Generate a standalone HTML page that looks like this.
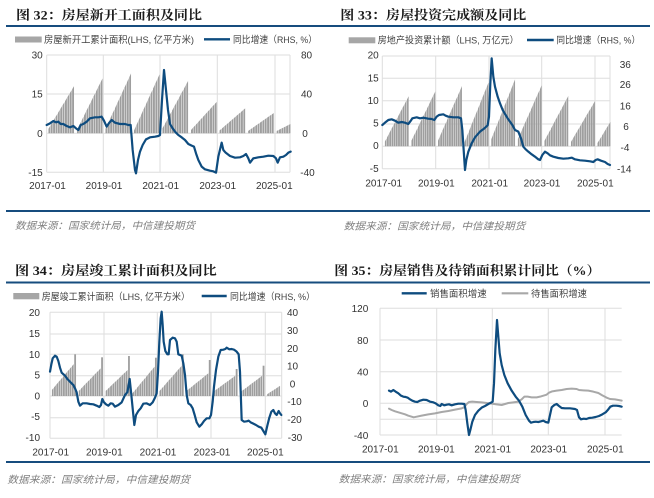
<!DOCTYPE html>
<html><head><meta charset="utf-8">
<style>
html,body{margin:0;padding:0;background:#fff;}
svg{display:block;}
.ax{font-family:"Liberation Sans","Noto Sans CJK SC",sans-serif;font-size:10px;fill:#333;}
.lg{font-family:"Liberation Sans","Noto Sans CJK SC",sans-serif;font-size:9.5px;fill:#404040;}
.tt{font-family:"Liberation Serif","Noto Serif CJK SC",serif;font-size:13px;font-weight:bold;fill:#1a1a1a;}
.src{font-family:"Liberation Sans","Noto Sans CJK SC",sans-serif;font-size:10px;font-style:italic;fill:#808080;}
.g{stroke:#dedede;stroke-width:1;fill:none;}
.bl{fill:none;stroke:#0e4c7f;stroke-width:2.2;stroke-linejoin:round;stroke-linecap:round;}
.gl{fill:none;stroke:#a8a8a8;stroke-width:2;stroke-linejoin:round;stroke-linecap:round;}
</style></head>
<body>
<svg width="654" height="498" viewBox="0 0 654 498" xmlns="http://www.w3.org/2000/svg">
<defs>
<pattern id="p1" patternUnits="userSpaceOnUse" x="48.35" y="0" width="2.378" height="498"><rect x="0" y="0" width="1.9" height="498" fill="#9e9e9e"/></pattern>
<pattern id="p2" patternUnits="userSpaceOnUse" x="384.8" y="0" width="2.216" height="498"><rect x="0" y="0" width="1.8" height="498" fill="#9e9e9e"/></pattern>
<pattern id="p3" patternUnits="userSpaceOnUse" x="51.8" y="0" width="2.243" height="498"><rect x="0" y="0" width="1.8" height="498" fill="#9e9e9e"/></pattern>
</defs>

<!-- rules -->
<rect x="6" y="25" width="644" height="2" fill="#164c7e"/>
<rect x="6" y="210" width="644" height="2" fill="#164c7e"/>
<rect x="6" y="281.5" width="644" height="2" fill="#164c7e"/>
<rect x="6" y="461" width="644" height="2" fill="#164c7e"/>

<!-- titles -->
<text class="tt" x="16" y="19.5" textLength="186" lengthAdjust="spacingAndGlyphs">图 32：房屋新开工面积及同比</text>
<text class="tt" x="340.3" y="19.5" textLength="186" lengthAdjust="spacingAndGlyphs">图 33：房屋投资完成额及同比</text>
<text class="tt" x="15" y="275" textLength="201.7" lengthAdjust="spacingAndGlyphs">图 34：房屋竣工累计面积及同比</text>
<text class="tt" x="334.3" y="275" textLength="266" lengthAdjust="spacingAndGlyphs">图 35：房屋销售及待销面积累计同比（%）</text>

<!-- sources -->
<text class="src" x="15" y="229" textLength="180" lengthAdjust="spacingAndGlyphs">数据来源：国家统计局，中信建投期货</text>
<text class="src" x="343.7" y="229.5" textLength="181.6" lengthAdjust="spacingAndGlyphs">数据来源：国家统计局，中信建投期货</text>
<text class="src" x="7.3" y="482.8" textLength="182.7" lengthAdjust="spacingAndGlyphs">数据来源：国家统计局，中信建投期货</text>
<text class="src" x="338.7" y="482.3" textLength="181" lengthAdjust="spacingAndGlyphs">数据来源：国家统计局，中信建投期货</text>

<!-- ============ CHART 1 ============ -->
<g>
<path class="g" d="M46.7 55H290M46.7 94H290M46.7 133.3H290M46.7 172.3H290M46.7 55V172.3M103.3 55V172.3M160 55V172.3M217.3 55V172.3M275 55V172.3M290 55V172.3"/>
<rect x="15" y="36.5" width="26.7" height="6" fill="#a6a6a6"/>
<text class="lg" x="44" y="43" textLength="150" lengthAdjust="spacingAndGlyphs">房屋新开工累计面积(LHS, 亿平方米)</text>
<line x1="204" y1="39.3" x2="230" y2="39.3" stroke="#0e4c7f" stroke-width="2.4"/>
<text class="lg" x="233" y="43" textLength="84" lengthAdjust="spacingAndGlyphs">同比增速（RHS, %）</text>
<g fill="url(#p1)">
<polygon points="48.35,133.3 48.35,129 74.1,86 74.1,133.3"/>
<polygon points="76.9,133.3 76.9,130 102.6,78.3 102.6,133.3"/>
<polygon points="105.4,133.3 105.4,129 131.1,73.3 131.1,133.3"/>
<polygon points="133.9,133.3 133.9,130.7 159.7,74 159.7,133.3"/>
<polygon points="162.5,133.3 162.5,128.3 188.2,80.7 188.2,133.3"/>
<polygon points="191,133.3 191,130 216.8,101.7 216.8,133.3"/>
<polygon points="219.5,133.3 219.5,130.5 245.3,108.3 245.3,133.3"/>
<polygon points="248.1,133.3 248.1,131 273.8,113 273.8,133.3"/>
<polygon points="276.6,133.3 276.6,131 290.5,124 290.5,133.3"/>
</g>
<g transform="translate(40,50) scale(0.333333)">
<polyline vector-effect="non-scaling-stroke" class="bl" points="20,225 30,220 40,213 48,217 55,215 62,222 70,222 80,228 90,232 100,228 108,235 115,240 122,225 130,222 140,215 150,205 165,202 175,202 185,200 192,212 200,230 208,218 215,210 225,218 240,222 255,222 265,225 272,225 278,300 285,360 288,370 294,330 300,305 308,285 318,268 330,262 345,260 355,258 360,255 366,150 372,60 378,120 384,180 390,222 398,235 405,245 415,255 425,262 435,270 445,282 455,287 462,290 468,310 475,330 485,350 495,358 510,362 520,364 528,368 535,320 545,278 550,300 557,308 570,318 585,323 600,322 610,318 618,312 625,325 630,338 640,325 655,322 670,320 685,317 700,318 708,325 713,338 720,322 730,320 738,315 745,308 752,305"/>
</g>
<g class="ax" text-anchor="end">
<text x="42.7" y="58.5">30</text><text x="42.7" y="97.5">15</text><text x="42.7" y="136.8">0</text><text x="42.7" y="175.8">-15</text>
</g>
<g class="ax" text-anchor="middle">
<text x="306.5" y="58.5">80</text><text x="306.5" y="97.5">40</text><text x="305" y="136.8">0</text><text x="307.5" y="175.8">-40</text>
<text x="47.5" y="189">2017-01</text><text x="104" y="189">2019-01</text><text x="160.7" y="189">2021-01</text><text x="217.7" y="189">2023-01</text><text x="274.3" y="189">2025-01</text>
</g>
</g>

<!-- ============ CHART 2 ============ -->
<g>
<path class="g" d="M382.3 56H610M382.3 78.3H610M382.3 100.7H610M382.3 124H610M382.3 146.3H610M382.3 168.7H610M382.3 56V168.7M435.7 56V168.7M489 56V168.7M541.7 56V168.7M595 56V168.7M610 56V168.7"/>
<rect x="348.7" y="37.3" width="26.6" height="6" fill="#a6a6a6"/>
<text class="lg" x="377.7" y="43.5" textLength="141" lengthAdjust="spacingAndGlyphs">房地产投资累计额（LHS, 万亿元）</text>
<line x1="527" y1="40" x2="553.7" y2="40" stroke="#0e4c7f" stroke-width="2.4"/>
<text class="lg" x="556.3" y="43.5" textLength="84" lengthAdjust="spacingAndGlyphs">同比增速（RHS, %）</text>
<g fill="url(#p2)">
<polygon points="384.8,146.3 384.8,141.7 408.8,96 408.8,146.3"/>
<polygon points="411.4,146.3 411.4,140.7 435.4,91.3 435.4,146.3"/>
<polygon points="438,146.3 438,140.7 462,86 462,146.3"/>
<polygon points="464.6,146.3 464.6,142 488.6,82.3 488.6,146.3"/>
<polygon points="491.2,146.3 491.2,139.5 515.2,79 515.2,146.3"/>
<polygon points="517.8,146.3 517.8,139.3 541.8,85 541.8,146.3"/>
<polygon points="544.4,146.3 544.4,141 568.4,95.7 568.4,146.3"/>
<polygon points="570.9,146.3 570.9,142 595,101 595,146.3"/>
<polygon points="597.5,146.3 597.5,143 610.5,121.7 610.5,146.3"/>
</g>
<g transform="translate(375,50) scale(0.333333)">
<polyline vector-effect="non-scaling-stroke" class="bl" points="22,225 30,218 40,210 50,208 60,212 70,218 80,216 90,218 100,222 106,214 112,205 125,202 135,205 145,203 160,206 170,207 178,210 185,200 192,195 205,193 212,197 220,200 235,202 250,202 258,205 262,240 266,300 270,360 274,330 280,305 290,280 300,262 315,245 328,235 338,226 342,200 346,100 350,25 355,80 360,110 368,140 375,160 383,180 390,192 398,205 405,215 412,225 420,240 430,245 438,265 445,290 452,298 460,305 470,313 480,320 490,328 495,330 502,315 510,305 518,310 525,316 535,320 550,324 565,326 580,325 590,323 600,328 615,331 630,332 645,334 655,336 662,330 668,328 678,332 690,336 698,342 705,345"/>
</g>
<g class="ax" text-anchor="end">
<text x="378.7" y="58.5">20</text><text x="378.7" y="81.5">15</text><text x="378.7" y="103.8">10</text><text x="378.7" y="126.5">5</text><text x="378.7" y="149.2">0</text><text x="378.7" y="171.8">-5</text>
</g>
<g class="ax" text-anchor="middle">
<text x="625.3" y="67.8">36</text><text x="625.3" y="88.2">26</text><text x="625.3" y="109.5">16</text><text x="626" y="130.2">6</text><text x="625" y="151.2">-4</text><text x="624.2" y="172.5">-14</text>
<text x="383.7" y="186.5">2017-01</text><text x="436.3" y="186.5">2019-01</text><text x="489.7" y="186.5">2021-01</text><text x="542" y="186.5">2023-01</text><text x="595.3" y="186.5">2025-01</text>
</g>
</g>

<!-- ============ CHART 3 ============ -->
<g>
<path class="g" d="M50 312.3H281.7M50 334H281.7M50 354.3H281.7M50 375.7H281.7M50 396H281.7M50 417.7H281.7M50 438.3H281.7M50 312.3V438.3M104 312.3V438.3M157.3 312.3V438.3M211 312.3V438.3M265.3 312.3V438.3M281.7 312.3V438.3"/>
<rect x="13.3" y="293" width="26" height="6.3" fill="#a6a6a6"/>
<text class="lg" x="41.7" y="300" textLength="148.3" lengthAdjust="spacingAndGlyphs">房屋竣工累计面积（LHS, 亿平方米）</text>
<line x1="201.7" y1="296" x2="226.7" y2="296" stroke="#0e4c7f" stroke-width="2.4"/>
<text class="lg" x="230" y="300" textLength="85" lengthAdjust="spacingAndGlyphs">同比增速（RHS, %）</text>
<g fill="url(#p3)">
<polygon points="51.8,396 51.8,390 73.8,364 73.8,396"/>
<polygon points="78.7,396 78.7,391 100.7,368.3 100.7,396"/>
<polygon points="105.6,396 105.6,391 127.6,370 127.6,396"/>
<polygon points="132.5,396 132.5,393.3 154.5,366.7 154.5,396"/>
<polygon points="159.5,396 159.5,391 181.5,366 181.5,396"/>
<polygon points="186.4,396 186.4,391 208.4,373.3 208.4,396"/>
<polygon points="213.3,396 213.3,391.7 235.3,375.7 235.3,396"/>
<polygon points="240.2,396 240.2,392.3 262.2,375.7 262.2,396"/>
<polygon points="267.1,396 267.1,394.3 280.2,385.7 280.2,396"/>
</g>
<g fill="#9e9e9e">
<rect x="74.23" y="354.3" width="1.8" height="41.7"/>
<rect x="101.15" y="357.3" width="1.8" height="38.7"/>
<rect x="128.06" y="356" width="1.8" height="40"/>
<rect x="154.98" y="357.7" width="1.8" height="38.3"/>
<rect x="181.89" y="354.3" width="1.8" height="41.7"/>
<rect x="208.81" y="360" width="1.8" height="36"/>
<rect x="235.73" y="369" width="1.8" height="27"/>
<rect x="262.64" y="365.7" width="1.8" height="30.3"/>
</g>
<g transform="translate(40,305) scale(0.333333)">
<polyline vector-effect="non-scaling-stroke" class="bl" points="30,200 34,178 38,160 45,152 50,155 55,168 60,188 65,203 75,212 82,222 90,230 100,240 105,250 110,262 115,290 120,302 128,295 140,295 150,297 160,298 170,302 178,306 183,300 187,282 192,292 198,298 205,302 212,295 218,296 225,305 235,300 245,292 255,270 262,262 266,240 269,222 273,260 278,310 283,360 288,330 295,318 302,310 310,296 320,295 330,300 338,292 345,278 350,265 354,200 358,110 362,40 365,20 368,60 371,110 376,138 382,148 386,148 390,105 398,98 405,100 410,110 415,148 425,152 430,175 435,210 440,270 445,295 452,300 458,310 464,330 470,352 478,365 485,358 492,348 500,340 508,340 513,330 518,290 522,245 528,195 535,155 542,135 550,134 556,132 560,128 568,133 575,132 582,134 590,140 596,148 600,200 605,345 612,350 620,349 626,347 632,352 640,356 648,360 656,365 664,368 670,378 676,388 682,362 688,338 694,320 700,315 705,325 710,330 716,318 720,325 724,330"/>
</g>
<g class="ax" text-anchor="end">
<text x="40" y="316.2">20</text><text x="40" y="336.8">15</text><text x="40" y="357.8">10</text><text x="40" y="378.5">5</text><text x="40" y="399.5">0</text><text x="40" y="420.2">-5</text><text x="40" y="440.8">-10</text>
</g>
<g class="ax" text-anchor="middle">
<text x="292.5" y="316.2">40</text><text x="292.5" y="334">30</text><text x="292.5" y="351.8">20</text><text x="292.5" y="369.6">10</text><text x="292.5" y="387.4">0</text><text x="294.5" y="405.2">-10</text><text x="294.5" y="423">-20</text><text x="295" y="440.8">-30</text>
<text x="50.7" y="455.5">2017-01</text><text x="104.3" y="455.5">2019-01</text><text x="158" y="455.5">2021-01</text><text x="212" y="455.5">2023-01</text><text x="265.3" y="455.5">2025-01</text>
</g>
</g>

<!-- ============ CHART 4 ============ -->
<g>
<path class="g" d="M380 308.3H621.7M380 340H621.7M380 371.7H621.7M380 403.3H621.7M380 419.3H621.7M380 435H621.7M380 308.3V435M436.7 308.3V435M492.3 308.3V435M548.3 308.3V435M605 308.3V435"/>
<line x1="401.7" y1="293.3" x2="426.7" y2="293.3" stroke="#0e4c7f" stroke-width="2.4"/>
<text class="lg" x="430" y="297" textLength="56.7" lengthAdjust="spacingAndGlyphs">销售面积增速</text>
<line x1="501.7" y1="293.3" x2="528.3" y2="293.3" stroke="#a8a8a8" stroke-width="2.2"/>
<text class="lg" x="531" y="297" textLength="56" lengthAdjust="spacingAndGlyphs">待售面积增速</text>
<g transform="translate(375,300) scale(0.333333)">
<polyline vector-effect="non-scaling-stroke" class="gl" points="42,326 50,330 60,334 70,337 80,340 90,343 100,347 110,350 116,352 125,350 140,347 160,343 180,340 200,336 220,333 240,329 260,325 268,322 275,312 282,306 292,305 305,306 320,307 335,309 350,311 365,313 380,315 390,312 400,309 415,307 430,305 440,298 448,290 458,290 470,292 485,292 495,290 505,287 515,284 522,278 532,274 545,272 560,270 575,267 590,266 605,267 612,270 625,271 640,272 655,275 670,279 682,286 695,293 705,297 720,298 730,300 740,302"/>
<polyline vector-effect="non-scaling-stroke" class="bl" points="42,272 48,275 55,270 62,275 70,280 78,287 85,290 92,291 98,293 105,298 112,302 120,305 127,306 135,302 145,299 155,300 165,305 175,307 182,310 190,316 196,318 200,312 208,316 215,314 222,313 230,316 240,313 250,311 260,311 268,312 272,330 277,370 282,405 286,390 292,365 300,345 310,332 320,323 330,318 340,312 348,308 353,305 357,250 361,150 366,60 370,110 374,160 380,195 388,225 398,250 410,272 422,290 432,302 442,320 452,345 462,362 468,368 475,366 482,365 490,366 498,364 505,362 512,366 520,368 525,345 530,322 538,315 545,312 552,318 560,324 570,325 585,325 600,327 606,330 612,352 618,358 626,356 634,357 642,354 652,353 662,351 672,348 682,343 692,337 700,328 706,320 714,317 724,317 732,318 740,320"/>
</g>
<g class="ax" text-anchor="end">
<text x="368.3" y="311.8">120</text><text x="368.3" y="343.8">80</text><text x="368.3" y="375.5">40</text><text x="368.3" y="407.2">0</text><text x="368.3" y="438.8">-40</text>
</g>
<g class="ax" text-anchor="middle">
<text x="380.3" y="452.7">2017-01</text><text x="436.3" y="452.7">2019-01</text><text x="492.7" y="452.7">2021-01</text><text x="548.7" y="452.7">2023-01</text><text x="605.3" y="452.7">2025-01</text>
</g>
</g>
</svg>
</body></html>
